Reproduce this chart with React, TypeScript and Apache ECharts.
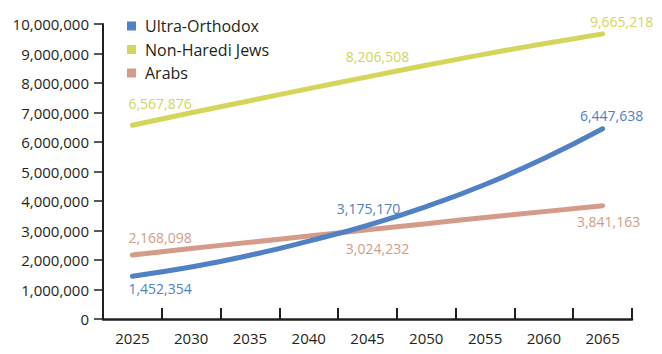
import React, { useEffect, useRef } from "react";
import * as echarts from "echarts";

const years = ["2025", "2030", "2035", "2040", "2045", "2050", "2055", "2060", "2065"];
const ultraOrthodox = [1452354, 1760000, 2160000, 2640000, 3175170, 3810000, 4560000, 5440000, 6447638];
const nonHarediJews = [6567876, 6990000, 7400000, 7810000, 8206508, 8600000, 8980000, 9330000, 9665218];
const arabs = [2168098, 2390000, 2600000, 2810000, 3024232, 3230000, 3440000, 3640000, 3841163];
const yTicks = [0, 1000000, 2000000, 3000000, 4000000, 5000000, 6000000, 7000000, 8000000, 9000000, 10000000];

const BLUE = "#4f81c4";
const YELLOW = "#d5d55b";
const SALMON = "#d49b89";
const INK = "#231f20";
const FONT = "Open Sans";

const fmt = (v: number) => v.toLocaleString("en-US");

type LabelCfg = { position: string; align: string; offset: [number, number] };

function withLabels(values: number[], color: string, cfg: Record<number, LabelCfg>) {
  return values.map((v, i) => {
    const c = cfg[i];
    if (!c) return { value: v, label: { show: false } };
    return {
      value: v,
      label: {
        show: true,
        position: c.position,
        align: c.align,
        offset: c.offset,
        color,
        fontFamily: FONT,
        fontSize: 14,
        formatter: fmt(v),
      },
    };
  });
}

function lineSeries(name: string, color: string, data: any[], z: number) {
  return {
    name,
    type: "line",
    smooth: true,
    symbol: "circle",
    symbolSize: 0.1,
    showSymbol: true,
    showAllSymbol: true,
    color,
    itemStyle: { color },
    lineStyle: { width: 5, color, cap: "round" },
    z,
    data,
  };
}

export default function App() {
  const ref = useRef<HTMLDivElement>(null);
  useEffect(() => {
    if (!ref.current) return;
    const chart = echarts.init(ref.current, undefined, { renderer: "svg" });
    chart.setOption({
      animation: false,
      backgroundColor: "#ffffff",
      textStyle: { fontFamily: FONT },
      grid: { left: 103, right: 30, top: 24, bottom: 35 },
      legend: {
        orient: "vertical",
        left: 122,
        top: 13,
        icon: "rect",
        itemWidth: 9,
        itemHeight: 9,
        itemGap: 7.5,
        textStyle: { fontFamily: FONT, fontSize: 16, color: INK, padding: [0, 0, 0, 4] },
        data: ["Ultra-Orthodox", "Non-Haredi Jews", "Arabs"],
      },
      xAxis: {
        type: "category",
        data: years,
        boundaryGap: true,
        axisLine: { show: true, lineStyle: { color: INK, width: 2.5 } },
        axisTick: { show: true, inside: true, length: 11, lineStyle: { color: INK, width: 2 } },
        axisLabel: { color: INK, fontFamily: FONT, fontSize: 15, margin: 11 },
        splitLine: { show: false },
      },
      yAxis: {
        type: "value",
        min: yTicks[0],
        max: yTicks[yTicks.length - 1],
        interval: yTicks[1] - yTicks[0],
        axisLine: { show: true, lineStyle: { color: INK, width: 2 } },
        axisTick: { show: true, length: 9, lineStyle: { color: INK, width: 1.5 } },
        axisLabel: { color: INK, fontFamily: FONT, fontSize: 15, margin: 14, formatter: (v: number) => fmt(v) },
        splitLine: { show: false },
      },
      series: [
        lineSeries(
          "Ultra-Orthodox",
          BLUE,
          withLabels(ultraOrthodox, BLUE, {
            0: { position: "bottom", align: "left", offset: [-4, 0] },
            4: { position: "top", align: "center", offset: [1, -5] },
            8: { position: "top", align: "center", offset: [9, -1] },
          }),
          3
        ),
        lineSeries(
          "Non-Haredi Jews",
          YELLOW,
          withLabels(nonHarediJews, YELLOW, {
            0: { position: "top", align: "left", offset: [-4, -10] },
            4: { position: "top", align: "center", offset: [10, -8] },
            8: { position: "top", align: "center", offset: [19, 0] },
          }),
          2
        ),
        lineSeries(
          "Arabs",
          SALMON,
          withLabels(arabs, SALMON, {
            0: { position: "top", align: "left", offset: [-4, -5] },
            4: { position: "bottom", align: "center", offset: [10, 7] },
            8: { position: "bottom", align: "center", offset: [6, 4] },
          }),
          2
        ),
      ],
    });
    return () => chart.dispose();
  }, []);
  return <div ref={ref} style={{ width: 662, height: 354, position: "absolute", left: 0, top: 0 }} />;
}
